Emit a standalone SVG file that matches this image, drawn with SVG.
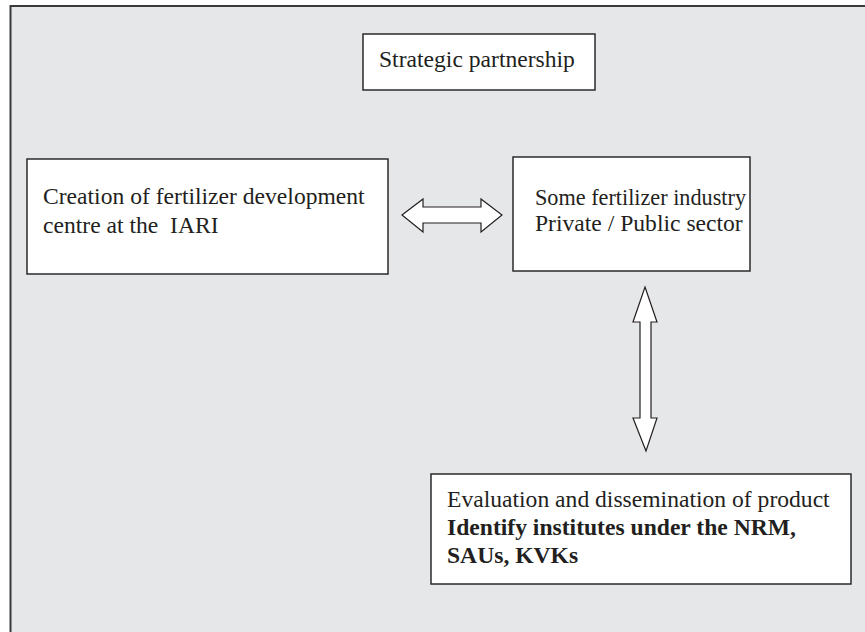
<svg xmlns="http://www.w3.org/2000/svg" width="865" height="632" viewBox="0 0 865 632">
<style>
.box{fill:#ffffff;stroke:#2b2b2b;stroke-width:1.5}
.t{font-family:"Liberation Serif","Times New Roman",serif;font-size:23.6px;fill:#231f20;white-space:pre}
.b{font-weight:bold}
.arr{fill:#ffffff;stroke:#231f20;stroke-width:1.2;stroke-linejoin:miter}
</style>
<rect x="0" y="0" width="865" height="632" fill="#ffffff"/>
<rect x="10.5" y="6" width="870" height="640" fill="#e6e7e8" stroke="#3a3a3a" stroke-width="2"/>
<g id="strategic">
<rect class="box" x="363" y="34" width="232" height="56"/>
<text class="t" x="379" y="67">Strategic partnership</text>
</g>
<g id="iari">
<rect class="box" x="27" y="159" width="361" height="115"/>
<text class="t" x="43" y="204">Creation of fertilizer development</text>
<text class="t" x="43" y="233" xml:space="preserve">centre at the  IARI</text>
</g>
<g id="industry">
<rect class="box" x="513" y="157" width="237" height="114"/>
<text class="t" x="535" y="205" textLength="211" lengthAdjust="spacingAndGlyphs">Some fertilizer industry</text>
<text class="t" x="535" y="231">Private / Public sector</text>
</g>
<g id="evaluation">
<rect class="box" x="431" y="474" width="420" height="110"/>
<text class="t" x="447" y="507">Evaluation and dissemination of product</text>
<text class="t b" x="447" y="535">Identify institutes under the NRM,</text>
<text class="t b" x="447" y="563">SAUs, KVKs</text>
</g>
<g id="connectors">
<path class="arr" d="M402,215 L423,199 L423,207 L481,207 L481,199 L502,215 L481,232 L481,223 L423,223 L423,232 Z"/>
<path class="arr" d="M645,287 L657,322 L651,322 L651,418 L657,418 L646,451 L633,418 L640,418 L640,322 L633,322 Z"/>
</g>
</svg>
